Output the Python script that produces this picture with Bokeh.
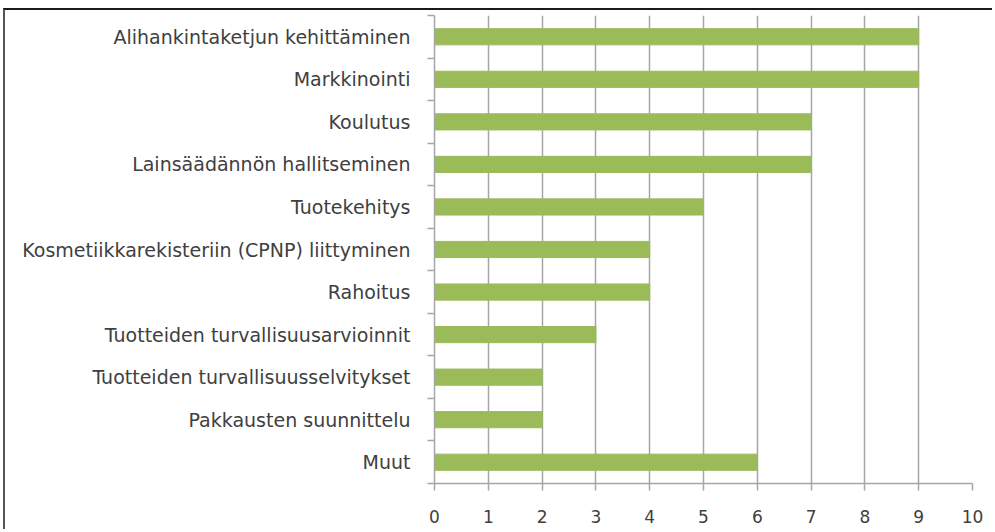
from bokeh.plotting import figure
from bokeh.models import Range1d, FixedTicker, ColumnDataSource
from bokeh.embed import file_html
from bokeh.resources import INLINE

categories = [
    "Alihankintaketjun kehittäminen",
    "Markkinointi",
    "Koulutus",
    "Lainsäädännön hallitseminen",
    "Tuotekehitys",
    "Kosmetiikkarekisteriin (CPNP) liittyminen",
    "Rahoitus",
    "Tuotteiden turvallisuusarvioinnit",
    "Tuotteiden turvallisuusselvitykset",
    "Pakkausten suunnittelu",
    "Muut",
]
values = [9, 9, 7, 7, 5, 4, 4, 3, 2, 2, 6]
x_ticks = [0, 1, 2, 3, 4, 5, 6, 7, 8, 9, 10]

n = len(categories)
positions = [i + 0.5 for i in range(n)]
boundaries = list(range(n + 1))

FONT = "DejaVu Sans"
TEXT = "#404040"
GRID = "#a6a6a6"
BAR = "#9BBB59"

src = ColumnDataSource(dict(y=positions, v=values, cat=categories))

p = figure(
    width=989, height=521,
    x_range=Range1d(0, 10), y_range=Range1d(n, 0),
    output_backend="svg", toolbar_location=None,
    min_border_left=429, min_border_top=5, min_border_right=22, min_border_bottom=48,
)
p.styles = {
    "margin-left": "3px", "margin-top": "8px",
    "border-top": "2px solid #1a1a1a", "border-left": "2px solid #555555",
}
p.outline_line_color = None
p.background_fill_color = "white"
p.border_fill_color = "white"

p.hbar(y="y", left=0, right="v", height=0.38, source=src, fill_color=BAR, line_color=BAR)

p.xgrid.ticker = FixedTicker(ticks=x_ticks)
p.xgrid.grid_line_color = GRID
p.xgrid.grid_line_width = 1.5
p.ygrid.grid_line_color = None

xa = p.xaxis[0]
xa.ticker = FixedTicker(ticks=x_ticks)
xa.axis_line_color = GRID
xa.axis_line_width = 1.5
xa.major_tick_line_color = GRID
xa.major_tick_line_width = 1.5
xa.major_tick_out = 7
xa.major_tick_in = 0
xa.minor_tick_line_color = None
xa.major_label_text_font = FONT
xa.major_label_text_font_size = "17px"
xa.major_label_text_color = TEXT
xa.major_label_standoff = 19

ya = p.yaxis[0]
ya.ticker = FixedTicker(ticks=positions, minor_ticks=boundaries)
ya.major_label_overrides = {pos: cat for pos, cat in zip(positions, categories)}
ya.axis_line_color = GRID
ya.axis_line_width = 1.5
ya.major_tick_line_color = None
ya.major_tick_out = 0
ya.major_tick_in = 0
ya.minor_tick_line_color = GRID
ya.minor_tick_line_width = 1.5
ya.minor_tick_out = 7
ya.minor_tick_in = 0
ya.major_label_text_font = FONT
ya.major_label_text_font_size = "19px"
ya.major_label_text_color = TEXT
ya.major_label_standoff = 17

open("out.html", "w").write(file_html(p, INLINE))
